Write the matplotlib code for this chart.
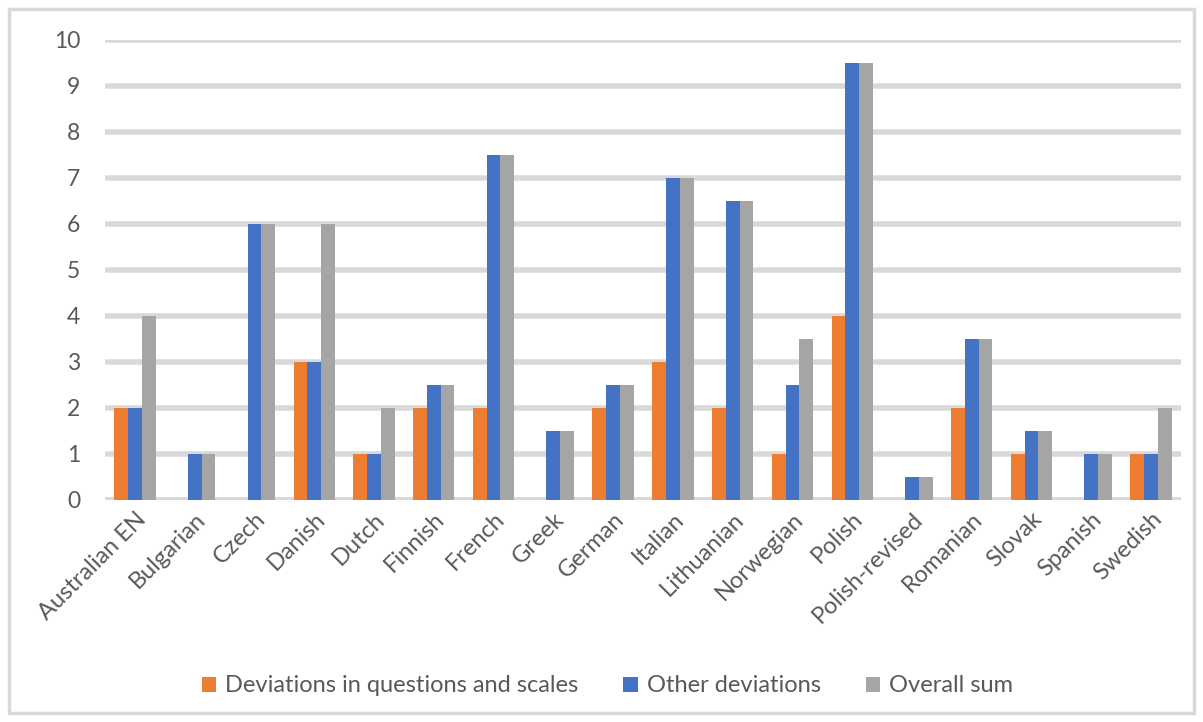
import matplotlib.pyplot as plt
import numpy as np
from matplotlib.patches import Rectangle

languages = ["Australian EN", "Bulgarian", "Czech", "Danish", "Dutch", "Finnish",
             "French", "Greek", "German", "Italian", "Lithuanian", "Norwegian",
             "Polish", "Polish-revised", "Romanian", "Slovak", "Spanish", "Swedish"]
question_dev = [2, 0, 0, 3, 1, 2, 2, 0, 2, 3, 2, 1, 4, 0, 2, 1, 0, 1]
other_dev = [2, 1, 6, 3, 1, 2.5, 7.5, 1.5, 2.5, 7, 6.5, 2.5, 9.5, 0.5, 3.5, 1.5, 1, 1]
overall = [4, 1, 6, 6, 2, 2.5, 7.5, 1.5, 2.5, 7, 6.5, 3.5, 9.5, 0.5, 3.5, 1.5, 1, 2]
series_names = ["Deviations in questions and scales", "Other deviations", "Overall sum"]

plt.rcParams['font.family'] = ['Lato', 'DejaVu Sans']
text_col = "#595959"
grid_col = "#d9d9d9"
colors = ["#ed7d31", "#4472c4", "#a5a5a5"]

fig = plt.figure(figsize=(12.03, 7.22), dpi=100)
ax = fig.add_axes([105 / 1203, 1 - 500 / 722, 1076 / 1203, 460 / 722])

x = np.arange(len(languages))
w = 0.23
for i, (vals, name) in enumerate(zip([question_dev, other_dev, overall], series_names)):
    ax.bar(x + (i - 1) * w, vals, width=w, color=colors[i], label=name, zorder=3)

ax.set_xlim(-0.5, len(languages) - 0.5)
ax.set_ylim(0, 10)
ax.set_yticks(range(0, 11))
ax.yaxis.grid(True, color=grid_col, linewidth=4, zorder=0)
ax.tick_params(axis='y', length=0, pad=18, labelsize=16.5, labelcolor=text_col)
ax.tick_params(axis='x', length=0, pad=6, labelsize=17, labelcolor=text_col)
ax.set_xticks(x)
ax.set_xticklabels(languages, rotation=45, ha='right', rotation_mode='anchor')
for s in ax.spines.values():
    s.set_visible(False)
ax.axhline(0, color=grid_col, linewidth=4, zorder=2)

fig.legend(loc='center', bbox_to_anchor=(0.505, 1 - 686 / 722), ncol=3, frameon=False,
           fontsize=17, labelcolor=text_col, handlelength=0.6, handleheight=0.6,
           handletextpad=0.4, columnspacing=1.9)

fig.patches.append(Rectangle((9 / 1203, 9 / 722), 1185 / 1203, 704 / 722,
                             transform=fig.transFigure, fill=False,
                             edgecolor=grid_col, linewidth=2.5))

fig.savefig("out.png", dpi=100)
